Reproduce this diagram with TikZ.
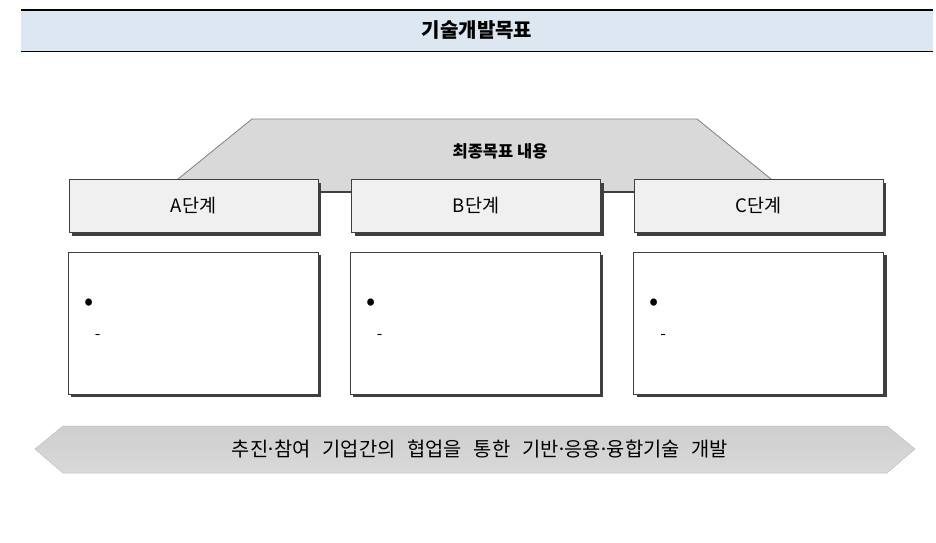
\documentclass[tikz,border=0pt]{standalone}
\usepackage{fontspec}
\newfontfamily\kr{Noto Sans CJK KR}
\usetikzlibrary{calc,shadows}
\definecolor{bandblue}{HTML}{DDE7F1}
\definecolor{trapgray}{HTML}{D9D9D9}
\definecolor{edgegray}{HTML}{3F3F3F}
\definecolor{stagefill}{HTML}{F0F0F0}
\newcommand{\mdot}{\hbox to 0.3em{\hss·\hss}}
\newcommand{\widewords}{\spaceskip 0.6em\relax}

\tikzset{
	stagebox/.style={draw=edgegray, fill=stagefill, line width=0.8pt,
		minimum width=249, minimum height=53,
		drop shadow={shadow xshift=3pt, shadow yshift=-3pt, fill=edgegray, opacity=1},
		font=\kr\fontsize{18.5}{18.5}\selectfont},
	textbox/.style={draw=edgegray, fill=white, line width=0.8pt,
		minimum width=250, minimum height=142,
		drop shadow={shadow xshift=3pt, shadow yshift=-3pt, fill=edgegray, opacity=1}},
	bulletmark/.style={anchor=center, inner sep=0pt, font=\kr\fontsize{27}{27}\selectfont},
	dashmark/.style={anchor=center, inner sep=0pt, font=\kr\fontsize{16}{16}\selectfont}
}

\begin{document}
\begin{tikzpicture}[x=1pt, y=-1pt]
		\useasboundingbox (0,0) rectangle (936,542);
		%%%%% START %%%%%
		
		\fill[bandblue] (21, 11) rectangle (933, 51);
		\draw[line width=2.5pt] (21, 10) -- (933, 10);
		\draw[line width=1pt] (21, 51) -- (933, 51);
		\node[font=\kr\bfseries\fontsize{20}{20}\selectfont] (title) at (477, 30) {기술개발목표};
		
		\draw[fill=trapgray, draw=gray, line width=0.8pt] (252, 119) -- (697, 119) -- (787, 192) -- (162, 192) -- cycle;
		\draw[line width=1.6pt, draw=edgegray] (318, 192) -- (352, 192) (600, 192) -- (634, 192);
		\node[font=\kr\bfseries\fontsize{16.5}{16.5}\selectfont] (goal) at (500, 151) {최종목표 내용};
		
		\node[stagebox] (stageA) at (193.5, 206) {A단계};
		\node[stagebox] (stageB) at (476, 206) {B단계};
		\node[stagebox] (stageC) at (758.5, 206) {C단계};
		
		\node[textbox] (boxA) at (193, 323) {};
		\node[textbox] (boxB) at (475, 323) {};
		\node[textbox] (boxC) at (758.5, 323) {};
		
		\foreach \b in {A,B,C}{
			\node[bulletmark] (dot\b) at ($(box\b.north west)+(21,53)$) {•};
			\node[dashmark] (dash\b) at ($(box\b.north west)+(30,85)$) {-};
		}
		
		\shade[top color=gray!38, middle color=gray!14, bottom color=gray!30, draw=gray!50, line width=0.5pt]
			(35, 449) -- (63, 426) -- (887, 426) -- (915, 449) -- (887, 473) -- (63, 473) -- cycle;
		\node[font=\kr\fontsize{19.8}{19.8}\selectfont\widewords] (banner) at (480, 449)
			{추진\mdot 참여 기업간의 협업을 통한 기반\mdot 응용\mdot 융합기술 개발};
		
		%%%%% END %%%%%
\end{tikzpicture}
\end{document}
